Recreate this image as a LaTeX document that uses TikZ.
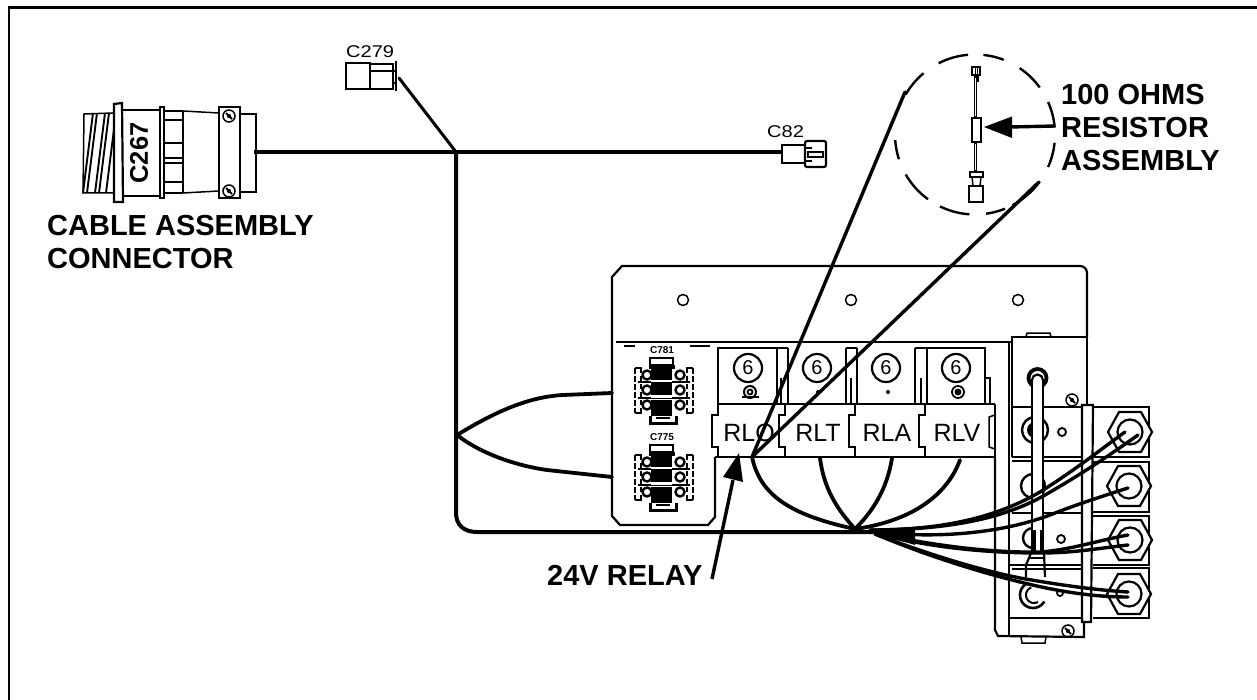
\documentclass[tikz,border=0pt]{standalone}
\usepackage{fontspec}
\setmainfont{Liberation Sans}
\tikzset{
  lab/.style={font=\bfseries\fontsize{29}{33}\selectfont,align=left,inner sep=0pt,anchor=north west},
  tag/.style={font=\fontsize{17}{17}\selectfont,inner sep=0pt},
  rel/.style={font=\fontsize{25}{25}\selectfont,inner sep=0pt},
  thin line/.style={line width=1.5pt},
  med line/.style={line width=2.2pt},
  wire/.style={line width=3.8pt,line cap=round,line join=round},
  fanw/.style={line width=3.4pt,line cap=round},
  ray/.style={line width=3.4pt,line cap=round},
  dasharc/.style={line width=2.4pt},
}
\newcommand{\circarc}[2]{\draw[dasharc] plot[domain=#1:#2,samples=14,smooth] ({975+80*cos(\x)},{134.5-80*sin(\x)});}
\newcommand{\notchl}[1]{\draw[thin line] (#1,404)--(#1,415)--(#1-6,415)--(#1-6,447)--(#1,447)--(#1,457);}
\newcommand{\screw}[3]{\draw[thin line] (#1,#2) circle (#3); \draw[line width=1.8pt] (#1-#3*.5,#2-#3*.5)--(#1+#3*.5,#2+#3*.5);\fill (#1,#2) circle (#3*.35);}
\newcommand{\sixc}[1]{\draw[med line] (#1,368) circle (14); \node[font=\fontsize{20}{20}\selectfont,inner sep=0pt] at (#1,368) {6};}
\newcommand{\hexa}[2]{\draw[med line,fill=white] (#1+22,#2)--(#1+11,#2-20)--(#1-11,#2-20)--(#1-22,#2)--(#1-11,#2+20)--(#1+11,#2+20)--cycle; \draw[med line] (#1,#2) circle (12.5);}
\newcommand{\cblk}[1]{\begin{scope}[shift={(662,#1)}]
  \draw[line width=2.2pt] (-12,-32) rectangle (11,-25);
  \draw[line width=3pt] (-12,-25)--(-12,-21) (11,-25)--(11,-21);
  \fill (-11,-24) rectangle (10,-10);
  \fill (-11,-7) rectangle (10,5);
  \fill (-11,10) rectangle (10,26);
  \draw[line width=2.8pt,dash pattern=on 6pt off 2pt] (-27,-22)--(-27,23) (31,-22)--(31,23);
  \draw[line width=2pt,dash pattern=on 5pt off 3pt] (-21,-22)--(-21,23) (25,-22)--(25,23);
  \draw[line width=2.4pt] (-27,-22)--(-20,-22) (24,-22)--(31,-22) (-27,23)--(-20,23) (24,23)--(31,23);
  \foreach \yy in {-15,0,15} {
    \draw[line width=2.4pt,fill=white] (18,\yy) circle (4.5);
    \draw[line width=2.4pt,fill=white] (-15,\yy) circle (4.5);
  }
  \draw[line width=1.8pt] (-24,-8)--(28,-8) (-24,8)--(28,8);
  \draw[white,line width=1.6pt] (-11,-8.5)--(10,-8.5) (-11,7.5)--(10,7.5);
  \draw[line width=3pt] (-12,26)--(-12,33)--(14,33)--(14,26);
  \draw[line width=2.2pt] (-6,28)--(8,28);
\end{scope}}
\begin{document}
\begin{tikzpicture}[x=1pt,y=-1pt]
\useasboundingbox (0,0) rectangle (1257,700);
\fill[white] (0,0) rectangle (1257,700);
% frame
\draw[line width=2.4pt] (9,700)--(9,7.6)--(1257,7.6);

% C267 connector
\begin{scope}[thin line]
  \draw (113,113)--(84,114)--(83,193)--(113,193);
  \foreach \xx in {89,93,101,105,112} {\draw[line width=1.9pt] (\xx+4,113)--(\xx-6,193);}
  \draw[med line,fill=white] (114,104)--(122,103)--(123,202)--(114,202)--cycle;
  \draw[med line] (123,110)--(160,110) (123,196)--(160,196);
  \draw[med line,fill=white] (160,107) rectangle (164,198);
  \draw (164,111)--(183,111) (164,193)--(183,193);
  \draw (164,120)--(183,120) (164,143)--(183,143) (164,158)--(183,158) (164,163)--(183,163) (164,182)--(183,182);
  \draw[med line] (183,111)--(183,193);
  \draw (183,111)--(219,113) (183,193)--(219,191);
  \draw[med line,fill=white] (219,107) rectangle (240,198);
  \draw (240,114)--(256,114)--(256,192)--(240,192);
\end{scope}
\node[font=\bfseries\fontsize{25.5}{25}\selectfont,inner sep=0pt,rotate=90] (c267) at (139,153) {C267};
\screw{229}{116}{6}
\screw{229}{191}{6}
\coordinate (c267out) at (254,152);
\node[lab] (cablelab) at (47,215) {CABLE ASSEMBLY\\CONNECTOR};

% C279
\node[tag,anchor=south west] (c279t) at (346,58) {\scalebox{1.18}[1]{C279}};
\draw[med line] (346,63) rectangle (370,89);
\draw[med line] (370,64) rectangle (393,89);
\draw[med line] (370,71)--(397,71);
\draw[line width=2.8pt] (396,61)--(396,91);
\draw[line width=2.5pt] (392,83)--(396,83);
\coordinate (c279out) at (399,78);

% C82
\node[tag,anchor=south west] (c82t) at (767,138) {\scalebox{1.18}[1]{C82}};
\draw[med line] (782,145) rectangle (805,163);
\draw[med line,rounded corners=2pt] (805,141) rectangle (826,167);
\draw[thin line] (808,152) rectangle (823,157);
\draw[line width=2pt] (806,148)--(812,148) (806,161)--(812,161);
\coordinate (c82in) at (782,152);

% panel
\draw[med line,rounded corners=7pt] (1087,337)--(1087,266)--(700,266);
\draw[med line] (700,266)--(622,266)--(612,277)--(612,516)--(620,525)--(708,525)--(715,517)--(715,457);
\draw[line width=2.6pt] (616,342)--(1012,342);
\foreach \xx in {683,851,1018} {\draw[thin line] (\xx,300) circle (5.5);}
\draw[thin line] (624,346)--(635,346) (690,346)--(710,346);

% connector blocks
\node[font=\bfseries\fontsize{10}{10}\selectfont,inner sep=0pt] (c781) at (662,350) {C781};
\cblk{390}
\node[font=\bfseries\fontsize{10}{10}\selectfont,inner sep=0pt] (c775) at (662,437) {C775};
\cblk{477}

% relays
\begin{scope}[thin line]
  \draw (718,404)--(718,348)--(777,348)--(777,404);
  \draw (788,404)--(788,348) (846,348)--(846,404);
  \draw (857,404)--(857,348) (915,348)--(915,404);
  \draw (927,404)--(927,348)--(985,348)--(985,404);
  \draw (777,348)--(788,348) (846,348)--(857,348) (915,348)--(927,348);
  \draw (781,378)--(781,404) (851,378)--(851,404) (921,378)--(921,404);
  \draw (985,378)--(990,378)--(990,404);
  \draw[med line] (718,404)--(995,404);
\end{scope}
\notchl{718}\notchl{785}\notchl{855}\notchl{925}
\draw[thin line] (995,404)--(995,457);
\draw[thin line] (995,415)--(989,417)--(989,447)--(995,449);
\draw[line width=2.6pt] (715,457)--(996,457);
\node[rel] (rlo) at (749,433) {RLO};
\node[rel] (rlt) at (818,433) {RLT};
\node[rel] (rla) at (887,433) {RLA};
\node[rel] (rlv) at (957,433) {RLV};
\sixc{748}\sixc{817}\sixc{886}\sixc{956}
\draw[line width=2pt] (750,392) circle (6); \draw[line width=1.8pt] (750,392) circle (2.5);
\draw[line width=1.8pt] (742,397)--(759,397);
\fill (818,392) circle (2);
\fill (888,392) circle (2);
\draw[line width=1.8pt] (958,392) circle (6); \fill (958,392) circle (3.5);

% right assembly
\begin{scope}[med line]
  \draw (1012,457)--(1012,337)--(1087,337)--(1087,405);
  \draw[thin line] (1026,337)--(1027,333)--(1050,333)--(1051,337);
  \draw (995,457)--(995,630)--(998,636)--(1084,637)--(1084,622);
  \draw (1009,342)--(1009,636);
  \draw[thin line] (1012,407)--(1082,407);
  \draw[thin line] (1012,457)--(1082,457) (1012,461)--(1082,461);
  \draw[thin line] (1012,513)--(1082,513);
  \draw[thin line] (1009,565)--(1082,565) (1012,569)--(1082,569);
  \draw (1009,618)--(1082,618);
  \draw[thin line] (1021,637)--(1022,643)--(1045,643)--(1046,637);
  \draw (1093,407)--(1149,407)--(1149,457)--(1093,457);
  \draw (1093,462)--(1149,462)--(1149,512)--(1093,512);
  \draw (1093,516)--(1149,516)--(1149,565)--(1093,565);
  \draw (1093,568)--(1149,568)--(1149,618)--(1093,618);
\end{scope}
\draw[line width=2.4pt] (1035,430) circle (13);
\fill (1035,430) circle (8);
\draw[line width=2.4pt] (1033,486) circle (12);
\draw[line width=2.4pt] (1033,538) circle (10);
\draw[line width=2.6pt] plot[domain=-30:-250,samples=24,smooth] ({1033+13*cos(\x)},{595-13*sin(\x)});
\draw[line width=2pt] plot[domain=-60:-250,samples=18,smooth] ({1034+8*cos(\x)},{595-8*sin(\x)});
\draw[line width=1.8pt] (1062,432) circle (4);
\draw[line width=1.8pt] (1061,539) circle (4);
\draw[line width=1.8pt] (1060,593) circle (3);
\screw{1072}{400}{6}
\screw{1068}{631}{6}
% bar
\draw[med line,fill=white] (1082,405) -- (1082,622) -- (1091,622) -- (1093,405) -- cycle;
% tube
\draw[line width=3.8pt] (1037.5,378) circle (9);
\draw[med line,fill=white] (1032,380) -- (1032,553) -- (1043,553) -- (1043,380);
\draw[med line] (1032,380) arc (180:360:5.5);
\draw[med line] (1031,553)--(1026,565)--(1026,577) (1044,553)--(1045,577);
\draw[line width=2.2pt] (1028,558)--(1043,558);
\draw[line width=4pt] (1034,530)--(1034,553);
\draw[line width=4pt] (1042,530)--(1042,553);

% hex nuts
\hexa{1130}{432}
\hexa{1129}{486}
\hexa{1130}{540}
\hexa{1129}{594}

% main harness
\coordinate (junc) at (456,152);
\coordinate (fan) at (855,529);
\coordinate (pin) at (612,393);
\coordinate (pout) at (612,477);
\coordinate (rj) at (752,457);
\draw[line width=4pt] (c267out)--(junc)--(c82in);
\draw[line width=3pt,line cap=round] (c279out)--(junc);
\draw[line width=4pt,line cap=round] (junc)--(456,513) .. controls (456,525) and (464,532) .. (477,532)--(892,532);
\draw[wire] (457,435) .. controls (490,415) and (525,397) .. (563,395) -- (pin);
\draw[wire] (457,435) .. controls (485,457) and (525,467) .. (547,470) -- (pout);

% relay fan
\draw[wire] (rj) .. controls (760,495) and (790,515) .. (fan);
\draw[wire] (820,458) .. controls (824,490) and (838,510) .. (fan);
\draw[wire] (892,458) .. controls (887,490) and (872,512) .. (fan);
\draw[wire] (960,460) .. controls (945,500) and (905,522) .. (fan);

% fan to right
\fill (866,531)--(915,527)--(915,545)--cycle;
\draw[fanw] (870,530) .. controls (950,530) and (1000,515) .. (1040,492) .. controls (1075,470) and (1100,450) .. (1125,432);
\draw[fanw] (870,530) .. controls (950,530) and (1005,518) .. (1045,495) .. controls (1080,475) and (1110,455) .. (1138,435);
\draw[fanw] (875,532) .. controls (950,540) and (1010,530) .. (1050,515) .. controls (1075,505) and (1100,497) .. (1128,488);
\draw[fanw] (875,533) .. controls (930,545) and (990,553) .. (1040,552) .. controls (1070,550) and (1100,540) .. (1128,535);
\draw[fanw] (875,533) .. controls (930,548) and (990,553) .. (1040,553) .. controls (1075,553) and (1100,548) .. (1128,545);
\draw[fanw] (875,534) .. controls (930,555) and (980,570) .. (1020,578) .. controls (1060,585) and (1095,590) .. (1128,592);
\draw[fanw] (875,534) .. controls (930,557) and (980,572) .. (1020,582) .. controls (1060,592) and (1095,597) .. (1128,597);

% rays to magnifier
\coordinate (ra) at (905,92);
\coordinate (rb) at (1039,182);
\draw[ray] (rj)--(ra);
\draw[ray] (rj)--(rb);

% magnifier
\circarc{150}{130}
\circarc{117}{95}
\circarc{84}{69}
\circarc{56}{36}
\circarc{24}{5}
\circarc{-6}{-24}
\circarc{-36}{-62}
\circarc{-68}{-82}
\circarc{-94}{-116}
\circarc{-126}{-150}
\circarc{-162}{-176}

% resistor assembly
\draw[thin line] (972,67) rectangle (980,75);
\draw[line width=.8pt] (975,67)--(975,75) (977.5,67)--(977.5,75);
\draw[line width=3pt] (975.5,75)--(975.5,118);
\draw[white,line width=.8pt] (975.5,78)--(975.5,116);
\draw[thin line] (978,75)--(978,82);
\draw[thin line] (972,118) rectangle (981,142);
\draw[line width=3pt] (975.5,142)--(975.5,172);
\draw[white,line width=.8pt] (975.5,144)--(975.5,170);
\draw[thin line,fill=white] (970,172) rectangle (983,177);
\draw[thin line] (972,177)--(973,186) (981,177)--(980,186);
\draw[thin line] (969,186) rectangle (983,202);

% resistor arrow
\coordinate (resarrow) at (1055,126);
\coordinate (restip) at (984,127);
\draw[line width=3.4pt] (resarrow)--(1010,127);
\fill (restip)--(1012,116.5)--(1012,138)--cycle;
\node[lab] (reslab) at (1061,84.5) {100 OHMS\\RESISTOR\\ASSEMBLY};

% relay arrow
\node[lab,anchor=base west] (rellab) at (547,585) {24V RELAY};
\coordinate (reltail) at (712,579);
\coordinate (reltip) at (739,453);
\draw[line width=3.4pt] (reltail)--(733,480);
\fill (reltip)--(723,477)--(743,482)--cycle;
\end{tikzpicture}
\end{document}
